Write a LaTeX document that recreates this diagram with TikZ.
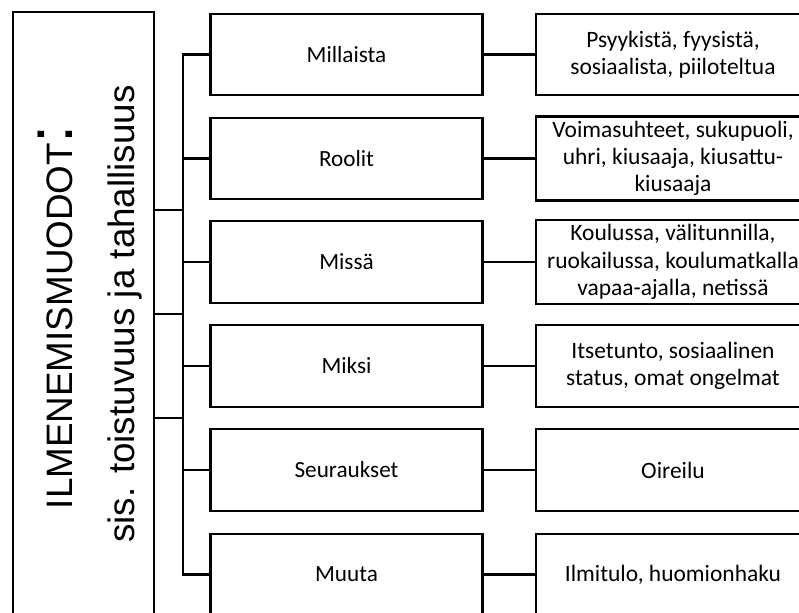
\documentclass[tikz,border=0pt]{standalone}
\usepackage{fontspec}
\setmainfont{Carlito}
\newfontfamily\arialfont{Liberation Sans}

\begin{document}
\begin{tikzpicture}[x=0.75pt,y=-0.75pt]
%style for the big title box
\tikzstyle{titlebox} = [rectangle, draw=black, line width=1.7pt, minimum width=106pt, minimum height=459pt]

%style for title text
\tikzstyle{titletext} = [rotate=90, anchor=base, inner sep=0pt, font=\arialfont\fontsize{27.6}{30}\selectfont]

%style for question box
\tikzstyle{qbox} = [rectangle, draw=black, line width=1.7pt, minimum width=204pt, minimum height=61pt, font=\fontsize{17.4}{21}\selectfont]

%style for answer box
\tikzstyle{abox} = [rectangle, draw=black, line width=1.7pt, minimum width=206pt, minimum height=61pt, align=center, font=\fontsize{17.6}{20.5}\selectfont]

%style for connector
\tikzstyle{link} = [draw=black, line width=1.7pt]

\useasboundingbox (0,0) rectangle (799,613);

%place nodes
\node[titlebox] (main) at (83.5,318) {};

\node[titletext] (titleMain) at (72,317) {ILMENEMISMUODOT{\fontsize{49}{49}\selectfont :}};

\node[titletext] (titleSub) at (134,314) {sis. toistuvuus ja tahallisuus};

\node[qbox] (millaista) at (346.5,54.5) {Millaista};

\node[qbox] (roolit) at (346.5,158.5) {Roolit};

\node[qbox] (missa) at (346.5,262) {Missä};

\node[qbox] (miksi) at (346.5,366) {Miksi};

\node[qbox] (seuraukset) at (346.5,470) {Seuraukset};

\node[qbox] (muuta) at (346.5,574.5) {Muuta};

\node[abox] (millaistaText) at (673,54.5) {Psyykistä, fyysistä,\\sosiaalista, piiloteltua};

\node[abox] (roolitText) at (673,158.5) {Voimasuhteet, sukupuoli,\\uhri, kiusaaja, kiusattu-\\kiusaaja};

\node[abox] (missaText) at (673,262) {Koulussa, välitunnilla,\\ruokailussa, koulumatkalla\\vapaa-ajalla, netissä};

\node[abox] (miksiText) at (673,366) {Itsetunto, sosiaalinen\\status, omat ongelmat};

\node[abox] (seurauksetText) at (673,470) {Oireilu};

\node[abox] (muutaText) at (673,574.5) {Ilmitulo, huomionhaku};

%bar and joins
\coordinate (bar) at (183,0);
\coordinate (join1) at (183,210);
\coordinate (join2) at (183,314);
\coordinate (join3) at (183,418);

\draw[link] (main.east |- join1) -- (join1);
\draw[link] (main.east |- join2) -- (join2);
\draw[link] (main.east |- join3) -- (join3);

\draw[link] (millaista.west) -- (bar |- millaista.west) -- (bar |- muuta.west) -- (muuta.west);
\draw[link] (bar |- roolit.west) -- (roolit.west);
\draw[link] (bar |- missa.west) -- (missa.west);
\draw[link] (bar |- miksi.west) -- (miksi.west);
\draw[link] (bar |- seuraukset.west) -- (seuraukset.west);

\draw[link] (millaista) -- (millaistaText);
\draw[link] (roolit) -- (roolitText);
\draw[link] (missa) -- (missaText);
\draw[link] (miksi) -- (miksiText);
\draw[link] (seuraukset) -- (seurauksetText);
\draw[link] (muuta) -- (muutaText);
\end{tikzpicture}
\end{document}
